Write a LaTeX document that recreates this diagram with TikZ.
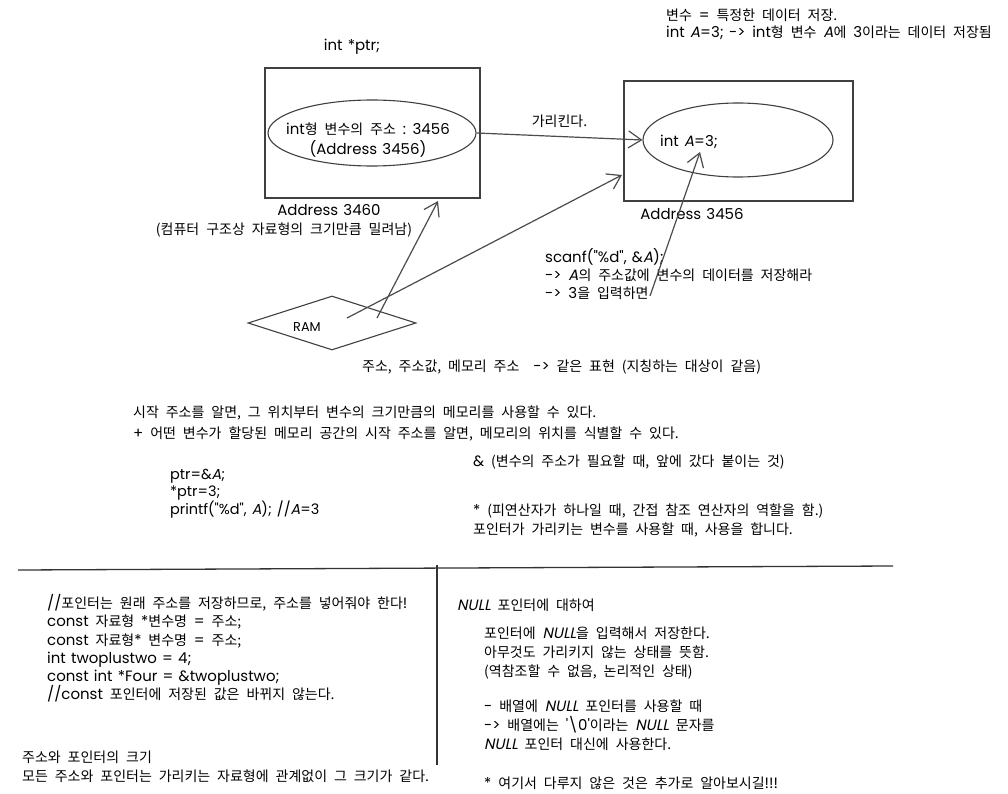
\documentclass[tikz,border=0pt]{standalone}
\usepackage{fontspec}
\setmainfont[WordSpace=2.2]{Noto Sans CJK KR}
\newfontfamily\hwfont[Scale=1.07, WordSpace=1.3]{Poppins}
\newfontfamily\hwslant[Scale=1.07, FakeSlant=0.2]{Poppins}
\newcommand{\h}[1]{{\hwfont #1}}
\newcommand{\hA}{{\hwslant A}}
\newcommand{\nullt}{{\hwslant NULL}}
\usetikzlibrary{shapes.geometric,arrows.meta,calc}
\begin{document}
\begin{tikzpicture}[x=1pt,y=-1pt,
  txt/.style={inner sep=0pt, anchor=west, font=\fontsize{14}{19}\selectfont, align=left},
  ctxt/.style={inner sep=0pt, font=\fontsize{14}{19}\selectfont, align=center},
  sketch/.style={draw=black!75, line width=1.1pt},
  boxn/.style={sketch, rectangle, inner sep=0pt},
  elln/.style={sketch, ellipse, inner sep=0pt},
  arr/.style={draw=black!70, line width=1.2pt, -{Straight Barb[length=13pt,width=17pt]}},
  sep/.style={draw=black!80, line width=1.3pt},
]
\fill[white] (0,0) rectangle (1008,794);
\useasboundingbox (0,0) rectangle (1008,794);

% top right note
\node[txt] (t1) at (666,15) {변수 \h{=} 특정한 데이터 저장.};
\node[txt] (t2) at (666,33) {\h{int \hA=3; ->} \h{int}형 변수 \hA{}에 \h{3}이라는 데이터 저장됨};

% left box
\node[ctxt] (ptr) at (352,47) {\h{int *ptr;}};
\node[boxn, minimum width=215pt, minimum height=130pt] (lbox) at (372.5,133) {};
\node[elln, minimum width=208pt, minimum height=66pt] (lell) at (372,133) {};
\node[ctxt, font=\fontsize{14}{20}\selectfont] (ltxt) at (368,140) {\h{int}형 변수의 주소 \h{: 3456}\\\h{(Address 3456)}};
\node[ctxt] (laddr) at (329,210) {\h{Address 3460}};
\node[ctxt] (lnote) at (284,230) {(컴퓨터 구조상 자료형의 크기만큼 밀려남)};

% right box
\node[boxn, minimum width=229pt, minimum height=120pt] (rbox) at (738.5,141) {};
\node[elln, minimum width=190pt, minimum height=74pt] (rell) at (738,140) {};
\node[ctxt] (rtxt) at (689,142) {\h{int \hA=3;}};
\node[ctxt] (raddr) at (692,214) {\h{Address 3456}};

% pointing arrow
\draw[arr] (lell.east) -- node[ctxt, above=8pt] (pt) {가리킨다.} (rell.west);

% scanf note
\node[txt, font=\fontsize{14}{18}\selectfont] (scan) at (545,274) {\h{scanf("\%d", \&\hA);}\\\h{->} \hA{}의 주소값에 변수의 데이터를 저장해라\\\h{->} \h{3}을 입력하면};

% RAM
\node[sketch, diamond, inner sep=0pt, minimum width=168pt, minimum height=54pt] (ram) at (332,323) {};
\node[ctxt, font=\fontsize{12}{13}\selectfont] (ramtxt) at (307,327) {\h{RAM}};
\coordinate (rs1) at (377,318);
\coordinate (rs2) at (347,318);
\coordinate (le1) at (438,201);
\coordinate (re1) at (622,175);
\coordinate (ss) at (650,296);
\coordinate (se) at (700,152);
\draw[arr] (rs1) -- (le1);
\draw[arr] (rs2) -- (re1);
\draw[arr] (ss) -- (se);

% middle notes
\node[txt] (same) at (362,367) {주소, 주소값, 메모리 주소 \ \h{->} 같은 표현 (지칭하는 대상이 같음)};
\node[txt, font=\fontsize{14}{21}\selectfont] (start) at (133,423.5) {시작 주소를 알면, 그 위치부터 변수의 크기만큼의 메모리를 사용할 수 있다.\\\h{+} 어떤 변수가 할당된 메모리 공간의 시작 주소를 알면, 메모리의 위치를 식별할 수 있다.};
\node[txt, font=\fontsize{13.5}{16.5}\selectfont] (code) at (170,494) {\h{ptr=\&\hA;}\\\h{*ptr=3;}\\\h{printf("\%d", \hA); //\hA=3}};
\node[txt] (amp) at (473,462) {\h{\&} (변수의 주소가 필요할 때, 앞에 갔다 붙이는 것)};
\node[txt] (star) at (473,520.5) {\h{*} (피연산자가 하나일 때, 간접 참조 연산자의 역할을 함.)\\포인터가 가리키는 변수를 사용할 때, 사용을 합니다.};

% separators
\coordinate (h1) at (18,570);
\coordinate (h2) at (893,566);
\coordinate (v1) at (437,565);
\coordinate (v2) at (437,765);
\draw[sep] (h1) -- (h2);
\draw[sep, line width=1.1pt] (v1) -- (v2);

% bottom left
\node[txt, font=\fontsize{14}{18.2}\selectfont] (constblk) at (47,648.5) {\h{//}포인터는 원래 주소를 저장하므로, 주소를 넣어줘야 한다\h{!}\\\h{const} 자료형 \h{*}변수명 \h{=} 주소;\\\h{const} 자료형\h{*} 변수명 \h{=} 주소;\\\h{int twoplustwo = 4;}\\\h{const int *Four = \&twoplustwo;}\\\h{//const} 포인터에 저장된 값은 바뀌지 않는다.};
\node[txt] (sizeblk) at (22,766.5) {주소와 포인터의 크기\\모든 주소와 포인터는 가리키는 자료형에 관계없이 그 크기가 같다.};

% bottom right
\node[txt] (nullh) at (457,605) {\nullt{} 포인터에 대하여};
\node[txt] (null1) at (484,653) {포인터에 \nullt{}을 입력해서 저장한다.\\아무것도 가리키지 않는 상태를 뜻함.\\(역참조할 수 없음, 논리적인 상태)};
\node[txt] (null2) at (484,725) {\h{-} 배열에 \nullt{} 포인터를 사용할 때\\\h{->} 배열에는 \h{'\textbackslash 0'}이라는 \nullt{} 문자를\\\nullt{} 포인터 대신에 사용한다.};
\node[txt] (null3) at (484,783) {\h{*} 여기서 다루지 않은 것은 추가로 알아보시길\h{!!!}};
\end{tikzpicture}
\end{document}
